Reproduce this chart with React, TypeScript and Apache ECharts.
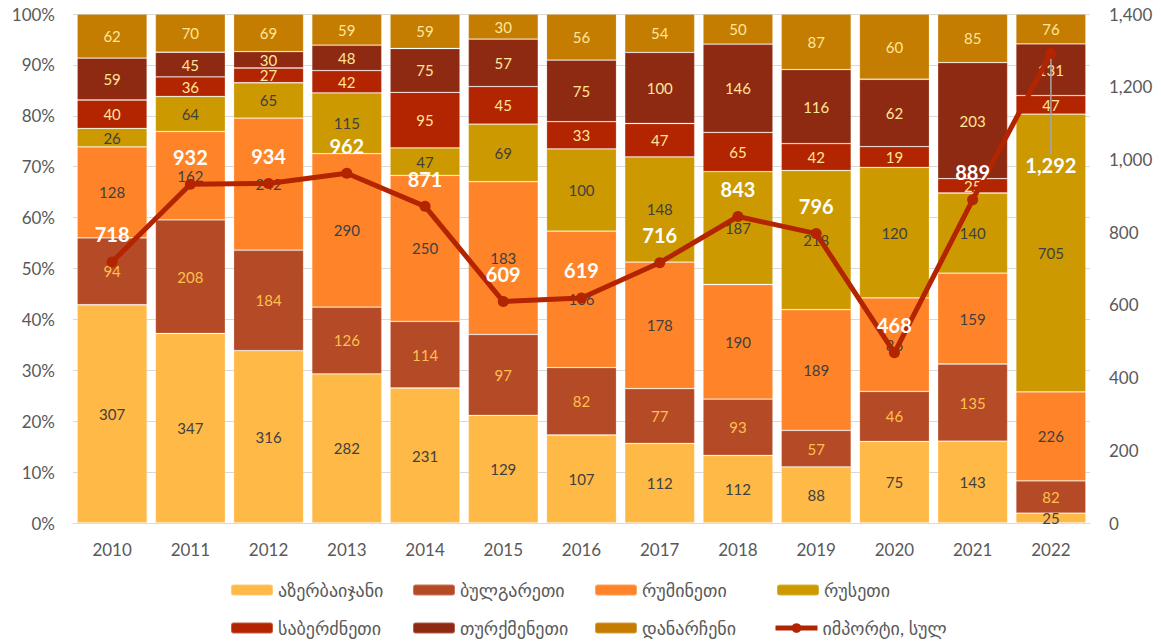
import React, { useEffect, useRef } from "react";
import * as echarts from "echarts";

const years = ["2010", "2011", "2012", "2013", "2014", "2015", "2016", "2017", "2018", "2019", "2020", "2021", "2022"];
const azerbaijan = [307, 347, 316, 282, 231, 129, 107, 112, 112, 88, 75, 143, 25];
const bulgaria = [94, 208, 184, 126, 114, 97, 82, 77, 93, 57, 46, 135, 82];
const romania = [128, 162, 242, 290, 250, 183, 166, 178, 190, 189, 86, 159, 226];
const russia = [26, 64, 65, 115, 47, 69, 100, 148, 187, 218, 120, 140, 705];
const greece = [40, 36, 27, 42, 95, 45, 33, 47, 65, 42, 19, 25, 47];
const turkmenistan = [59, 45, 30, 48, 75, 57, 75, 100, 146, 116, 62, 203, 131];
const others = [62, 70, 69, 59, 59, 30, 56, 54, 50, 87, 60, 85, 76];
const totalImport = [718, 932, 934, 962, 871, 609, 619, 716, 843, 796, 468, 889, 1292];

const names = ["აზერბაიჯანი", "ბულგარეთი", "რუმინეთი", "რუსეთი", "საბერძნეთი", "თურქმენეთი", "დანარჩენი"];
const lineName = "იმპორტი, სულ";
const colors = ["#FFB946", "#B54A26", "#FF8429", "#CC9900", "#B32400", "#8F2A12", "#C47D00"];
const labelColors = ["#404040", "#FFC04D", "#404040", "#404040", "#FFE699", "#FFE699", "#FFE699"];

const FONT = "Lato, 'Noto Sans', 'DejaVu Sans', sans-serif";

export default function App() {
  const ref = useRef<HTMLDivElement>(null);
  useEffect(() => {
    if (!ref.current) return;
    const chart = echarts.init(ref.current, null, { renderer: "svg" });
    const seriesData = [azerbaijan, bulgaria, romania, russia, greece, turkmenistan, others];
    const sums = years.map((_, i) => seriesData.reduce((s, arr) => s + arr[i], 0));
    const barSeries = seriesData.map((arr, k) => ({
      name: names[k],
      type: "bar",
      stack: "share",
      barCategoryGap: "10.5%",
      yAxisIndex: 0,
      itemStyle: { color: colors[k], borderColor: "rgba(255,255,255,0.25)", borderWidth: 0.8 },
      label: {
        show: true,
        position: "inside",
        color: labelColors[k],
        fontSize: 15,
        fontFamily: FONT,
        formatter: (p: any) => String(arr[p.dataIndex]),
      },
      data: arr.map((v, i) => (v / sums[i]) * 100),
    }));
    const last = totalImport.length - 1;
    const lineSeries = {
      name: lineName,
      type: "line",
      yAxisIndex: 1,
      z: 5,
      symbol: "circle",
      symbolSize: 11,
      lineStyle: { color: "#B32400", width: 5 },
      itemStyle: { color: "#B32400" },
      label: {
        show: true,
        position: "top",
        distance: 12,
        color: "#FFFFFF",
        fontSize: 20,
        fontWeight: "bold",
        fontFamily: FONT,
        formatter: (p: any) => Number(p.value).toLocaleString("en-US"),
      },
      labelLine: { show: false },
      labelLayout: (p: any) => (p.dataIndex === last ? { dy: 139 } : {}),
      data: totalImport.map((v, i) =>
        i === last ? { value: v, labelLine: { show: true, lineStyle: { color: "#A6A6A6", width: 1.5 } } } : v
      ),
    };
    const allNames = [...names, lineName];
    const legends = allNames.map((n, i) => {
      const row = Math.floor(i / 4);
      const col = i % 4;
      const base: any = {
        orient: "horizontal",
        left: 225 + col * 182 - (i === 7 ? 3 : 0),
        top: row === 0 ? 576 : 614,
        itemWidth: 42,
        itemHeight: 11,
        itemGap: 0,
        textStyle: { color: "#595959", fontSize: 18, fontFamily: FONT },
        data: [n],
      };
      if (i === 7) {
        base.itemHeight = 12;
        base.lineStyle = { width: 5 };
      }
      return base;
    });
    chart.setOption({
      animation: false,
      backgroundColor: "#FFFFFF",
      grid: { left: 73, right: 71, top: 14, bottom: 118, containLabel: false },
      legend: legends,
      xAxis: {
        type: "category",
        data: years,
        axisLine: { show: true, lineStyle: { color: "#D9D9D9" } },
        axisTick: { show: false },
        axisLabel: { color: "#595959", fontSize: 17, fontFamily: FONT, margin: 18 },
      },
      yAxis: [
        {
          type: "value",
          min: 0,
          max: 100,
          interval: 10,
          axisLine: { show: false },
          axisTick: { show: false },
          splitLine: { show: true, lineStyle: { color: "#D9D9D9" } },
          axisLabel: { color: "#595959", fontSize: 17, fontFamily: FONT, margin: 18, formatter: "{value}%" },
        },
        {
          type: "value",
          min: 0,
          max: 1400,
          interval: 200,
          axisLine: { show: false },
          axisTick: { show: false },
          splitLine: { show: false },
          axisLabel: {
            color: "#595959",
            fontSize: 17,
            fontFamily: FONT,
            margin: 19,
            formatter: (v: number) => v.toLocaleString("en-US"),
          },
        },
      ],
      series: [...barSeries, lineSeries],
    });
    return () => chart.dispose();
  }, []);
  return <div ref={ref} style={{ position: "fixed", left: 0, top: 0, width: 1161, height: 641 }} />;
}
